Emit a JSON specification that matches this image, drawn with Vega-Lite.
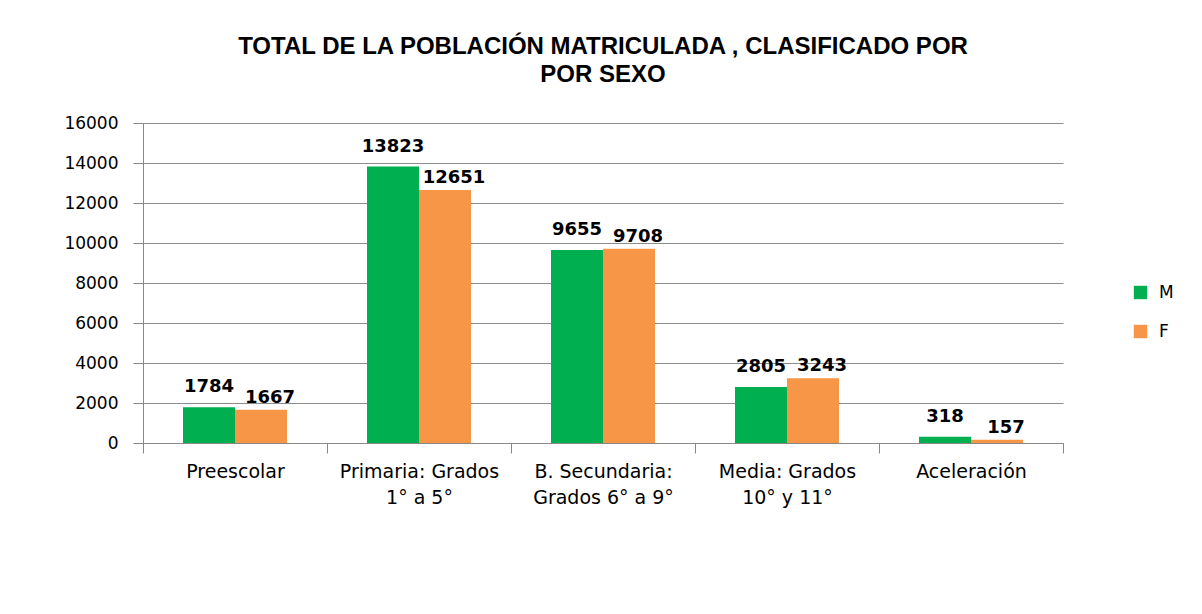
{
  "$schema": "https://vega.github.io/schema/vega-lite/v6.json",
  "autosize": "none",
  "width": 920,
  "height": 320,
  "padding": {"left": 143, "top": 123, "right": 139, "bottom": 171},
  "background": "white",
  "title": {
    "text": ["TOTAL DE LA POBLACIÓN MATRICULADA , CLASIFICADO POR", "POR SEXO"],
    "font": "Liberation Sans",
    "fontSize": 24,
    "fontWeight": "bold",
    "color": "#000000",
    "lineHeight": 28,
    "anchor": "middle",
    "offset": 27
  },
  "data": {
    "values": [
      {"nivel": "Preescolar", "sexo": "M", "total": 1784},
      {"nivel": "Preescolar", "sexo": "F", "total": 1667},
      {"nivel": "Primaria: Grados 1° a 5°", "sexo": "M", "total": 13823},
      {"nivel": "Primaria: Grados 1° a 5°", "sexo": "F", "total": 12651},
      {"nivel": "B. Secundaria: Grados 6° a 9°", "sexo": "M", "total": 9655},
      {"nivel": "B. Secundaria: Grados 6° a 9°", "sexo": "F", "total": 9708},
      {"nivel": "Media: Grados 10° y 11°", "sexo": "M", "total": 2805},
      {"nivel": "Media: Grados 10° y 11°", "sexo": "F", "total": 3243},
      {"nivel": "Aceleración", "sexo": "M", "total": 318},
      {"nivel": "Aceleración", "sexo": "F", "total": 157}
    ]
  },
  "encoding": {
    "x": {
      "field": "nivel",
      "type": "nominal",
      "sort": null,
      "scale": {"paddingInner": 0, "paddingOuter": 0},
      "axis": {
        "title": null,
        "labelAngle": 0,
        "tickBand": "extent",
        "labelFont": "DejaVu Sans",
        "labelFontSize": 19,
        "labelColor": "#000000",
        "labelLineHeight": 26,
        "labelPadding": 9,
        "tickSize": 10,
        "tickColor": "#888888",
        "domainColor": "#888888",
        "labelExpr": "datum.label == 'Primaria: Grados 1° a 5°' ? ['Primaria: Grados', '1° a 5°'] : datum.label == 'B. Secundaria: Grados 6° a 9°' ? ['B. Secundaria:', 'Grados 6° a 9°'] : datum.label == 'Media: Grados 10° y 11°' ? ['Media: Grados', '10° y 11°'] : datum.label"
      }
    },
    "xOffset": {"field": "sexo", "type": "nominal", "sort": ["M", "F"], "scale": {"paddingInner": 0, "paddingOuter": 0.769}},
    "y": {
      "field": "total",
      "type": "quantitative",
      "scale": {"domain": [0, 16000], "nice": false},
      "axis": {
        "title": null,
        "values": [0, 2000, 4000, 6000, 8000, 10000, 12000, 14000, 16000],
        "format": "d",
        "labelFont": "DejaVu Sans",
        "labelFontSize": 17,
        "labelColor": "#000000",
        "labelPadding": 15,
        "tickSize": 10,
        "tickColor": "#888888",
        "domainColor": "#888888",
        "gridColor": "#8c8c8c",
        "grid": true
      }
    }
  },
  "layer": [
    {
      "mark": {"type": "bar"},
      "encoding": {
        "color": {
          "field": "sexo",
          "type": "nominal",
          "sort": ["M", "F"],
          "scale": {"domain": ["M", "F"], "range": ["#00B050", "#F79646"]},
          "legend": {
            "title": null,
            "orient": "none",
            "legendX": 989,
            "legendY": 161,
            "symbolType": "square",
            "symbolSize": 180,
            "symbolStrokeWidth": 0,
            "labelFont": "DejaVu Sans",
            "labelFontSize": 17,
            "labelColor": "#000000",
            "labelOffset": 10,
            "rowPadding": 21
          }
        }
      }
    },
    {
      "transform": [{"filter": "datum.sexo == 'M'"}],
      "mark": {"type": "text", "baseline": "alphabetic", "dy": -15, "font": "DejaVu Sans", "fontSize": 18, "fontWeight": "bold", "color": "#000000"},
      "encoding": {"text": {"field": "total", "type": "quantitative", "format": "d"}}
    },
    {
      "transform": [{"filter": "datum.sexo == 'F'"}],
      "mark": {"type": "text", "baseline": "alphabetic", "dy": -7, "dx": 9, "font": "DejaVu Sans", "fontSize": 18, "fontWeight": "bold", "color": "#000000"},
      "encoding": {"text": {"field": "total", "type": "quantitative", "format": "d"}}
    }
  ],
  "config": {
    "view": {"stroke": null},
    "axis": {"gridWidth": 1, "domainWidth": 1, "tickWidth": 1}
  }
}
